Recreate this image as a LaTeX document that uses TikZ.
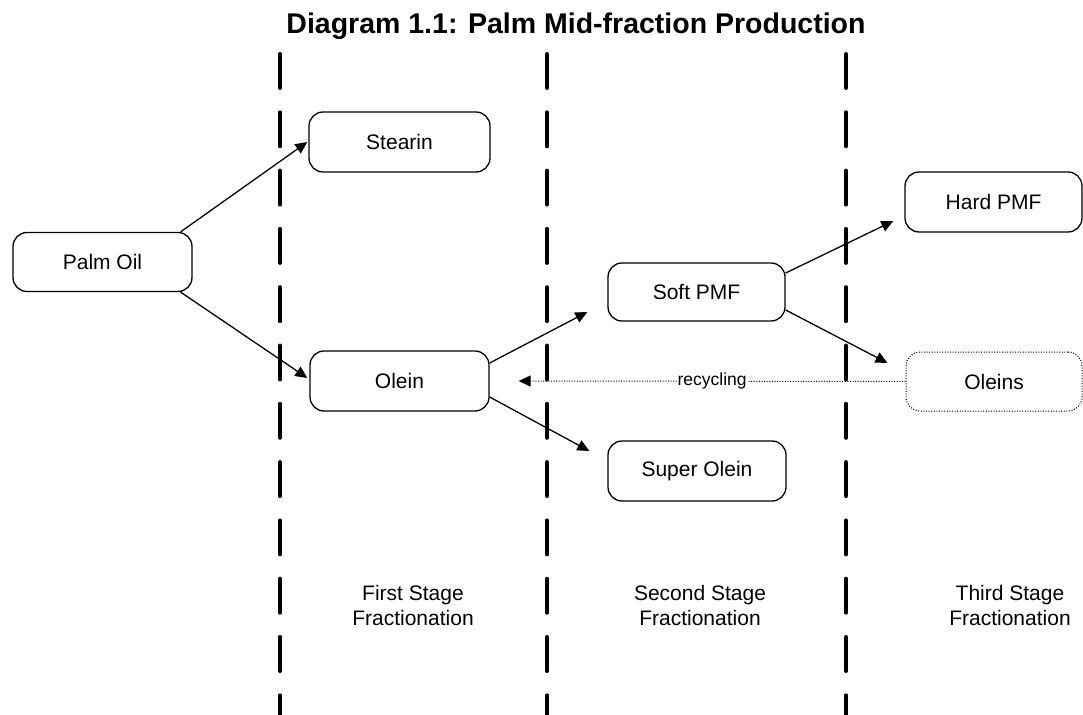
\documentclass[tikz,border=0pt]{standalone}
\usepackage{fontspec}
\setmainfont{Liberation Sans}
\usetikzlibrary{arrows.meta}
\begin{document}
\begin{tikzpicture}[x=1pt,y=-1pt,
  box/.style={draw=black,line width=1.3pt,rounded corners=14pt,minimum width=179pt,minimum height=59pt,inner sep=0pt,font=\fontsize{21}{25}\selectfont},
  dottedbox/.style={box,dash pattern=on 1pt off 1.6pt,line width=1pt},
  flow/.style={line width=1.3pt,-{Triangle[length=12pt,width=11pt]}},
  recyc/.style={line width=1pt,dash pattern=on 1pt off 1.6pt,-{Triangle[length=12pt,width=11pt]}},
  divider/.style={line width=4pt,line cap=round,dash pattern=on 34pt off 24.3pt},
  stagelabel/.style={align=center,inner sep=0pt,font=\fontsize{21}{25}\selectfont}]
\useasboundingbox (0,0) rectangle (1083,714);
% title
\node[font=\bfseries\fontsize{28.5}{32}\selectfont,inner sep=0pt] (title) at (576,26) {Diagram 1.1: Palm Mid-fraction Production};
% dividers
\coordinate (d1t) at (280,54); \coordinate (d1b) at (280,760);
\coordinate (d2t) at (547,54); \coordinate (d2b) at (547,760);
\coordinate (d3t) at (846,54); \coordinate (d3b) at (846,760);
\draw[divider] (d1t) -- (d1b);
\draw[divider] (d2t) -- (d2b);
\draw[divider] (d3t) -- (d3b);
% boxes
\node[box] (palm) at (102.5,262) {Palm Oil};
\node[box,minimum width=181pt,minimum height=60pt] (stearin) at (399.5,142) {Stearin};
\node[box,minimum height=60pt] (olein) at (399.5,381) {Olein};
\node[box,minimum width=177pt,minimum height=58pt] (soft) at (696.5,292) {Soft PMF};
\node[box,minimum width=178pt,minimum height=60pt] (super) at (697,471) {Super Olein};
\node[box,minimum width=177pt,minimum height=60pt] (hard) at (993.5,202) {Hard PMF};
\node[dottedbox,minimum width=176pt,minimum height=59pt] (oleins) at (994,381.5) {Oleins};
% connectors
\draw[flow] ([xshift=-12pt]palm.north east) -- ([xshift=-1pt]stearin.west);
\draw[flow] ([xshift=-12pt]palm.south east) -- ([xshift=-2pt,yshift=3pt]olein.west);
\draw[flow] ([yshift=18pt]olein.east) -- ([xshift=-20pt,yshift=-20pt]soft.west);
\draw[flow] ([yshift=-16pt]olein.east) -- ([xshift=-18pt,yshift=20pt]super.west);
\draw[flow] ([yshift=19pt]soft.east) -- ([xshift=-11pt,yshift=-19pt]hard.west);
\draw[flow] ([yshift=-18pt]soft.east) -- ([xshift=-18pt,yshift=18.5pt]oleins.west);
\draw[recyc] (oleins.west) -- node[fill=white,inner sep=1pt,font=\fontsize{17.5}{20}\selectfont] (rlabel) {recycling} ([xshift=29pt]olein.east);
% stage labels
\node[stagelabel] (s1) at (413,605) {First Stage\\Fractionation};
\node[stagelabel] (s2) at (700,605) {Second Stage\\Fractionation};
\node[stagelabel] (s3) at (1010,605) {Third Stage\\Fractionation};
\end{tikzpicture}
\end{document}
